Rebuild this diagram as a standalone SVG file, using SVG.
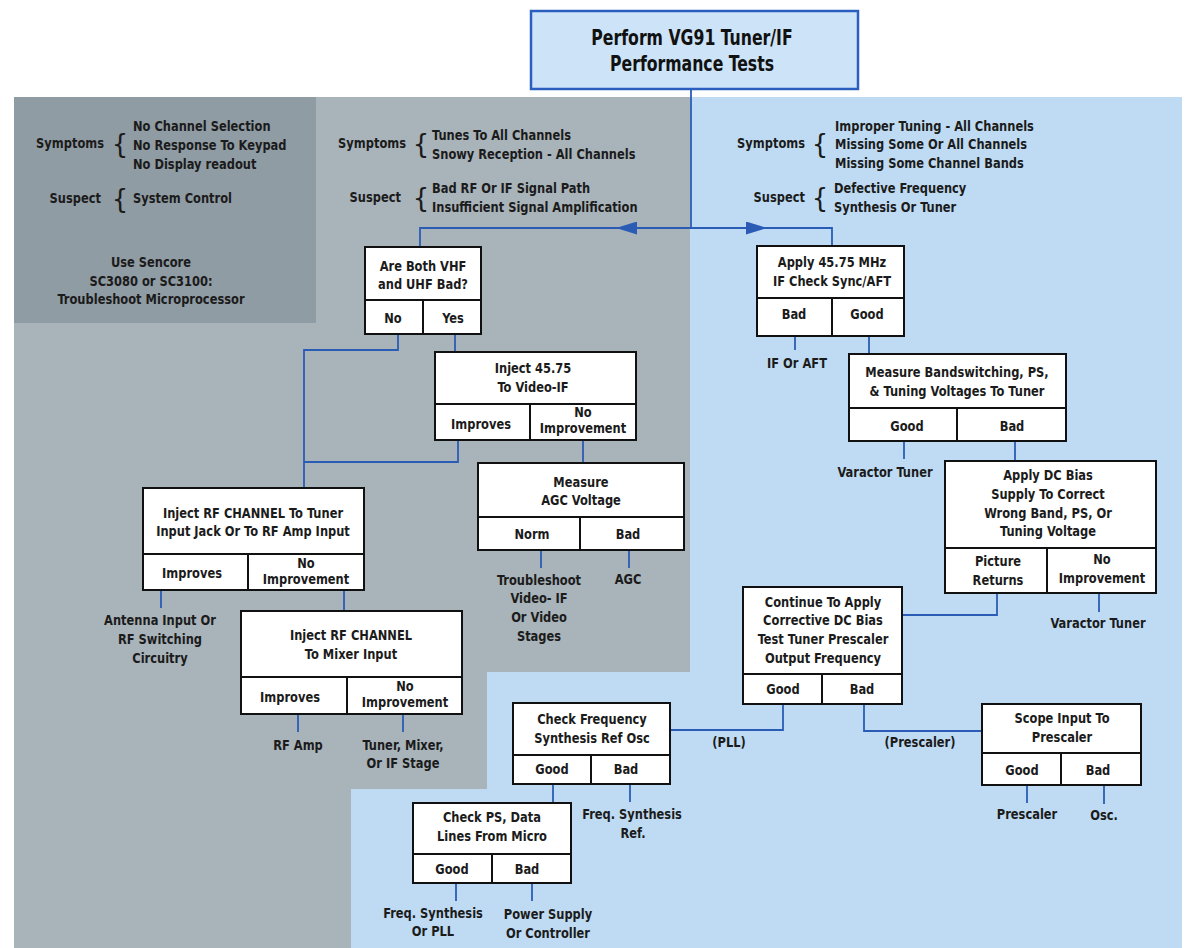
<svg xmlns="http://www.w3.org/2000/svg" width="1187" height="948" viewBox="0 0 1187 948">
<defs>
<style>
.t{font-family:"DejaVu Sans Condensed","Liberation Sans",sans-serif;font-weight:bold;font-size:14.8px;fill:#1b1b1b;text-anchor:middle}
.h{font-size:20.3px;fill:#111111}
.l{text-anchor:start}
.r{text-anchor:end}
.br{font-family:"DejaVu Sans","Liberation Sans",sans-serif;font-weight:normal;font-size:26px;fill:#1b1b1b;text-anchor:middle}
.box{fill:#ffffff;stroke:#111111;stroke-width:2}
.div{stroke:#111111;stroke-width:2;fill:none}
.c{stroke:#2a5cb5;stroke-width:1.8;fill:none}
</style>
<marker id="ah" viewBox="0 0 20 13" refX="20" refY="6.5" markerWidth="21" markerHeight="13" markerUnits="userSpaceOnUse" orient="auto" preserveAspectRatio="none">
<path d="M0,0 L20,6.5 L0,13 z" fill="#2a5cb5"/>
</marker>
</defs>
<rect x="0" y="0" width="1187" height="948" fill="#ffffff"/>
<polygon points="14,97 690,97 690,672 487,672 487,789 351,789 351,948 14,948" fill="#a9b3ba"/>
<polygon points="690,97 1182,97 1182,948 351,948 351,789 487,789 487,672 690,672" fill="#bfdbf3"/>
<rect x="14" y="97" width="302" height="226" fill="#909ca4"/>

<g id="left-panel">
<text class="t r" transform="translate(104,148) scale(.86,1)">Symptoms</text>
<text class="br" x="120" y="153">{</text>
<text class="t l" transform="translate(133,131) scale(.86,1)">No Channel Selection</text>
<text class="t l" transform="translate(133,150) scale(.86,1)">No Response To Keypad</text>
<text class="t l" transform="translate(133,169) scale(.86,1)">No Display readout</text>
<text class="t r" transform="translate(101,203) scale(.86,1)">Suspect</text>
<text class="br" x="120" y="208">{</text>
<text class="t l" transform="translate(133,203) scale(.86,1)">System Control</text>
<text class="t" transform="translate(151,267) scale(.86,1)">Use Sencore</text>
<text class="t" transform="translate(151,286) scale(.86,1)">SC3080 or SC3100:</text>
<text class="t" transform="translate(151,304) scale(.86,1)">Troubleshoot Microprocessor</text>
</g>

<g id="mid-symptoms">
<text class="t r" transform="translate(406,148) scale(.86,1)">Symptoms</text>
<text class="br" x="421" y="153">{</text>
<text class="t l" transform="translate(432,140) scale(.86,1)">Tunes To All Channels</text>
<text class="t l" transform="translate(432,159) scale(.86,1)">Snowy Reception - All Channels</text>
<text class="t r" transform="translate(401,202) scale(.86,1)">Suspect</text>
<text class="br" x="421" y="207">{</text>
<text class="t l" transform="translate(432,193) scale(.86,1)">Bad RF Or IF Signal Path</text>
<text class="t l" transform="translate(432,212) scale(.86,1)">Insufficient Signal Amplification</text>
</g>

<g id="right-symptoms">
<text class="t r" transform="translate(805,148) scale(.86,1)">Symptoms</text>
<text class="br" x="820" y="153">{</text>
<text class="t l" transform="translate(835,131) scale(.86,1)">Improper Tuning - All Channels</text>
<text class="t l" transform="translate(835,149) scale(.86,1)">Missing Some Or All Channels</text>
<text class="t l" transform="translate(835,168) scale(.86,1)">Missing Some Channel Bands</text>
<text class="t r" transform="translate(805,202) scale(.86,1)">Suspect</text>
<text class="br" x="820" y="207">{</text>
<text class="t l" transform="translate(834,193) scale(.86,1)">Defective Frequency</text>
<text class="t l" transform="translate(834,212) scale(.86,1)">Synthesis Or Tuner</text>
</g>

<g id="connectors">
<line class="c" x1="691" y1="89" x2="691" y2="228"/>
<line class="c" x1="691" y1="228" x2="616" y2="228" marker-end="url(#ah)"/>
<line class="c" x1="691" y1="228" x2="767" y2="228" marker-end="url(#ah)"/>
<polyline class="c" points="617,228 420,228 420,247"/>
<polyline class="c" points="766,228 832,228 832,246"/>
<polyline class="c" points="398,334 398,350 304,350 304,488"/>
<line class="c" x1="455" y1="334" x2="455" y2="352"/>
<polyline class="c" points="458,440 458,462 304,462"/>
<line class="c" x1="583" y1="440" x2="583" y2="463"/>
<line class="c" x1="541" y1="550" x2="541" y2="568"/>
<line class="c" x1="629" y1="550" x2="629" y2="568"/>
<line class="c" x1="161" y1="590" x2="161" y2="608"/>
<line class="c" x1="344" y1="590" x2="344" y2="611"/>
<line class="c" x1="298" y1="714" x2="298" y2="732"/>
<line class="c" x1="403" y1="714" x2="403" y2="732"/>
<line class="c" x1="795" y1="336" x2="795" y2="350"/>
<line class="c" x1="869" y1="336" x2="869" y2="354"/>
<line class="c" x1="904" y1="441" x2="904" y2="459"/>
<line class="c" x1="1015" y1="441" x2="1015" y2="461"/>
<polyline class="c" points="997,593 997,615 902,615"/>
<line class="c" x1="1099" y1="593" x2="1099" y2="612"/>
<polyline class="c" points="783,704 783,730 670,730"/>
<polyline class="c" points="864,704 864,731 982,731"/>
<line class="c" x1="553" y1="784" x2="553" y2="803"/>
<line class="c" x1="630" y1="784" x2="630" y2="802"/>
<line class="c" x1="456" y1="883" x2="456" y2="901"/>
<line class="c" x1="532" y1="883" x2="532" y2="901"/>
<line class="c" x1="1027" y1="785" x2="1027" y2="803"/>
<line class="c" x1="1104" y1="785" x2="1104" y2="804"/>
</g>

<g id="title">
<rect x="531" y="11" width="327" height="78" fill="#cde3f7" stroke="#2b5fbf" stroke-width="2.5"/>
<text class="t h" transform="translate(692,45) scale(.86,1)">Perform VG91 Tuner/IF</text>
<text class="t h" transform="translate(692,71) scale(.86,1)">Performance Tests</text>
</g>

<g id="vhf-uhf">
<rect class="box" x="365" y="247" width="116" height="87"/>
<line class="div" x1="365" y1="300" x2="481" y2="300"/>
<line class="div" x1="423" y1="300" x2="423" y2="334"/>
<text class="t" transform="translate(423,271) scale(.86,1)">Are Both VHF</text>
<text class="t" transform="translate(423,289) scale(.86,1)">and UHF Bad?</text>
<text class="t" transform="translate(393,323) scale(.86,1)">No</text>
<text class="t" transform="translate(453,323) scale(.86,1)">Yes</text>
</g>

<g id="inject-video-if">
<rect class="box" x="435" y="352" width="201" height="88"/>
<line class="div" x1="435" y1="404" x2="636" y2="404"/>
<line class="div" x1="530" y1="404" x2="530" y2="440"/>
<text class="t" transform="translate(533,373) scale(.86,1)">Inject 45.75</text>
<text class="t" transform="translate(533,392) scale(.86,1)">To Video-IF</text>
<text class="t" transform="translate(481,429) scale(.86,1)">Improves</text>
<text class="t" transform="translate(583,417) scale(.86,1)">No</text>
<text class="t" transform="translate(583,433) scale(.86,1)">Improvement</text>
</g>

<g id="measure-agc">
<rect class="box" x="478" y="463" width="206" height="87"/>
<line class="div" x1="478" y1="517" x2="684" y2="517"/>
<line class="div" x1="580" y1="517" x2="580" y2="550"/>
<text class="t" transform="translate(581,487) scale(.86,1)">Measure</text>
<text class="t" transform="translate(581,505) scale(.86,1)">AGC Voltage</text>
<text class="t" transform="translate(532,539) scale(.86,1)">Norm</text>
<text class="t" transform="translate(628,539) scale(.86,1)">Bad</text>
<text class="t" transform="translate(539,585) scale(.86,1)">Troubleshoot</text>
<text class="t" transform="translate(539,603) scale(.86,1)">Video- IF</text>
<text class="t" transform="translate(539,622) scale(.86,1)">Or Video</text>
<text class="t" transform="translate(539,641) scale(.86,1)">Stages</text>
<text class="t" transform="translate(628,584) scale(.86,1)">AGC</text>
</g>

<g id="inject-rf-tuner">
<rect class="box" x="143" y="488" width="221" height="102"/>
<line class="div" x1="143" y1="554" x2="364" y2="554"/>
<line class="div" x1="248" y1="554" x2="248" y2="590"/>
<text class="t" transform="translate(253,518) scale(.86,1)">Inject RF CHANNEL To Tuner</text>
<text class="t" transform="translate(253,536) scale(.86,1)">Input Jack Or To RF Amp Input</text>
<text class="t" transform="translate(192,578) scale(.86,1)">Improves</text>
<text class="t" transform="translate(306,568) scale(.86,1)">No</text>
<text class="t" transform="translate(306,584) scale(.86,1)">Improvement</text>
<text class="t" transform="translate(160,625) scale(.86,1)">Antenna Input Or</text>
<text class="t" transform="translate(160,644) scale(.86,1)">RF Switching</text>
<text class="t" transform="translate(160,663) scale(.86,1)">Circuitry</text>
</g>

<g id="inject-rf-mixer">
<rect class="box" x="241" y="611" width="221" height="103"/>
<line class="div" x1="241" y1="677" x2="462" y2="677"/>
<line class="div" x1="347" y1="677" x2="347" y2="714"/>
<text class="t" transform="translate(351,640) scale(.86,1)">Inject RF CHANNEL</text>
<text class="t" transform="translate(351,659) scale(.86,1)">To Mixer Input</text>
<text class="t" transform="translate(290,702) scale(.86,1)">Improves</text>
<text class="t" transform="translate(405,691) scale(.86,1)">No</text>
<text class="t" transform="translate(405,707) scale(.86,1)">Improvement</text>
<text class="t" transform="translate(298,750) scale(.86,1)">RF Amp</text>
<text class="t" transform="translate(403,750) scale(.86,1)">Tuner, Mixer,</text>
<text class="t" transform="translate(403,768) scale(.86,1)">Or IF Stage</text>
</g>

<g id="apply-if">
<rect class="box" x="757" y="246" width="147" height="90"/>
<line class="div" x1="757" y1="298" x2="904" y2="298"/>
<line class="div" x1="832" y1="298" x2="832" y2="336"/>
<text class="t" transform="translate(832,267) scale(.86,1)">Apply 45.75 MHz</text>
<text class="t" transform="translate(832,286) scale(.86,1)">IF Check Sync/AFT</text>
<text class="t" transform="translate(794,319) scale(.86,1)">Bad</text>
<text class="t" transform="translate(867,319) scale(.86,1)">Good</text>
<text class="t" transform="translate(797,368) scale(.86,1)">IF Or AFT</text>
</g>

<g id="measure-bandswitching">
<rect class="box" x="849" y="354" width="217" height="87"/>
<line class="div" x1="849" y1="408" x2="1066" y2="408"/>
<line class="div" x1="957" y1="408" x2="957" y2="441"/>
<text class="t" transform="translate(957,377) scale(.86,1)">Measure Bandswitching, PS,</text>
<text class="t" transform="translate(957,396) scale(.86,1)">&amp; Tuning Voltages To Tuner</text>
<text class="t" transform="translate(907,431) scale(.86,1)">Good</text>
<text class="t" transform="translate(1012,431) scale(.86,1)">Bad</text>
<text class="t" transform="translate(885,477) scale(.86,1)">Varactor Tuner</text>
</g>

<g id="apply-dc-bias">
<rect class="box" x="945" y="461" width="211" height="132"/>
<line class="div" x1="945" y1="548" x2="1156" y2="548"/>
<line class="div" x1="1047" y1="548" x2="1047" y2="593"/>
<text class="t" transform="translate(1048,480) scale(.86,1)">Apply DC Bias</text>
<text class="t" transform="translate(1048,499) scale(.86,1)">Supply To Correct</text>
<text class="t" transform="translate(1048,518) scale(.86,1)">Wrong Band, PS, Or</text>
<text class="t" transform="translate(1048,536) scale(.86,1)">Tuning Voltage</text>
<text class="t" transform="translate(998,566) scale(.86,1)">Picture</text>
<text class="t" transform="translate(998,585) scale(.86,1)">Returns</text>
<text class="t" transform="translate(1102,564) scale(.86,1)">No</text>
<text class="t" transform="translate(1102,583) scale(.86,1)">Improvement</text>
<text class="t" transform="translate(1098,628) scale(.86,1)">Varactor Tuner</text>
</g>

<g id="continue-dc-bias">
<rect class="box" x="743" y="587" width="159" height="117"/>
<line class="div" x1="743" y1="674" x2="902" y2="674"/>
<line class="div" x1="822" y1="674" x2="822" y2="704"/>
<text class="t" transform="translate(823,607) scale(.86,1)">Continue To Apply</text>
<text class="t" transform="translate(823,625) scale(.86,1)">Corrective DC Bias</text>
<text class="t" transform="translate(823,644) scale(.86,1)">Test Tuner Prescaler</text>
<text class="t" transform="translate(823,663) scale(.86,1)">Output Frequency</text>
<text class="t" transform="translate(783,694) scale(.86,1)">Good</text>
<text class="t" transform="translate(862,694) scale(.86,1)">Bad</text>
<text class="t" transform="translate(729,747) scale(.86,1)">(PLL)</text>
<text class="t" transform="translate(920,747) scale(.86,1)">(Prescaler)</text>
</g>

<g id="check-freq-ref">
<rect class="box" x="513" y="703" width="157" height="81"/>
<line class="div" x1="513" y1="755" x2="670" y2="755"/>
<line class="div" x1="591" y1="755" x2="591" y2="784"/>
<text class="t" transform="translate(592,724) scale(.86,1)">Check Frequency</text>
<text class="t" transform="translate(592,743) scale(.86,1)">Synthesis Ref Osc</text>
<text class="t" transform="translate(552,774) scale(.86,1)">Good</text>
<text class="t" transform="translate(626,774) scale(.86,1)">Bad</text>
<text class="t" transform="translate(632,819) scale(.86,1)">Freq. Synthesis</text>
<text class="t" transform="translate(633,838) scale(.86,1)">Ref.</text>
</g>

<g id="check-ps-data">
<rect class="box" x="413" y="803" width="158" height="80"/>
<line class="div" x1="413" y1="854" x2="571" y2="854"/>
<line class="div" x1="492" y1="854" x2="492" y2="883"/>
<text class="t" transform="translate(492,822) scale(.86,1)">Check PS, Data</text>
<text class="t" transform="translate(492,841) scale(.86,1)">Lines From Micro</text>
<text class="t" transform="translate(452,874) scale(.86,1)">Good</text>
<text class="t" transform="translate(527,874) scale(.86,1)">Bad</text>
<text class="t" transform="translate(433,918) scale(.86,1)">Freq. Synthesis</text>
<text class="t" transform="translate(433,936) scale(.86,1)">Or PLL</text>
<text class="t" transform="translate(548,919) scale(.86,1)">Power Supply</text>
<text class="t" transform="translate(548,938) scale(.86,1)">Or Controller</text>
</g>

<g id="scope-prescaler">
<rect class="box" x="982" y="704" width="159" height="81"/>
<line class="div" x1="982" y1="753" x2="1141" y2="753"/>
<line class="div" x1="1061" y1="753" x2="1061" y2="785"/>
<text class="t" transform="translate(1062,723) scale(.86,1)">Scope Input To</text>
<text class="t" transform="translate(1062,742) scale(.86,1)">Prescaler</text>
<text class="t" transform="translate(1022,775) scale(.86,1)">Good</text>
<text class="t" transform="translate(1098,775) scale(.86,1)">Bad</text>
<text class="t" transform="translate(1027,819) scale(.86,1)">Prescaler</text>
<text class="t" transform="translate(1104,820) scale(.86,1)">Osc.</text>
</g>
</svg>
